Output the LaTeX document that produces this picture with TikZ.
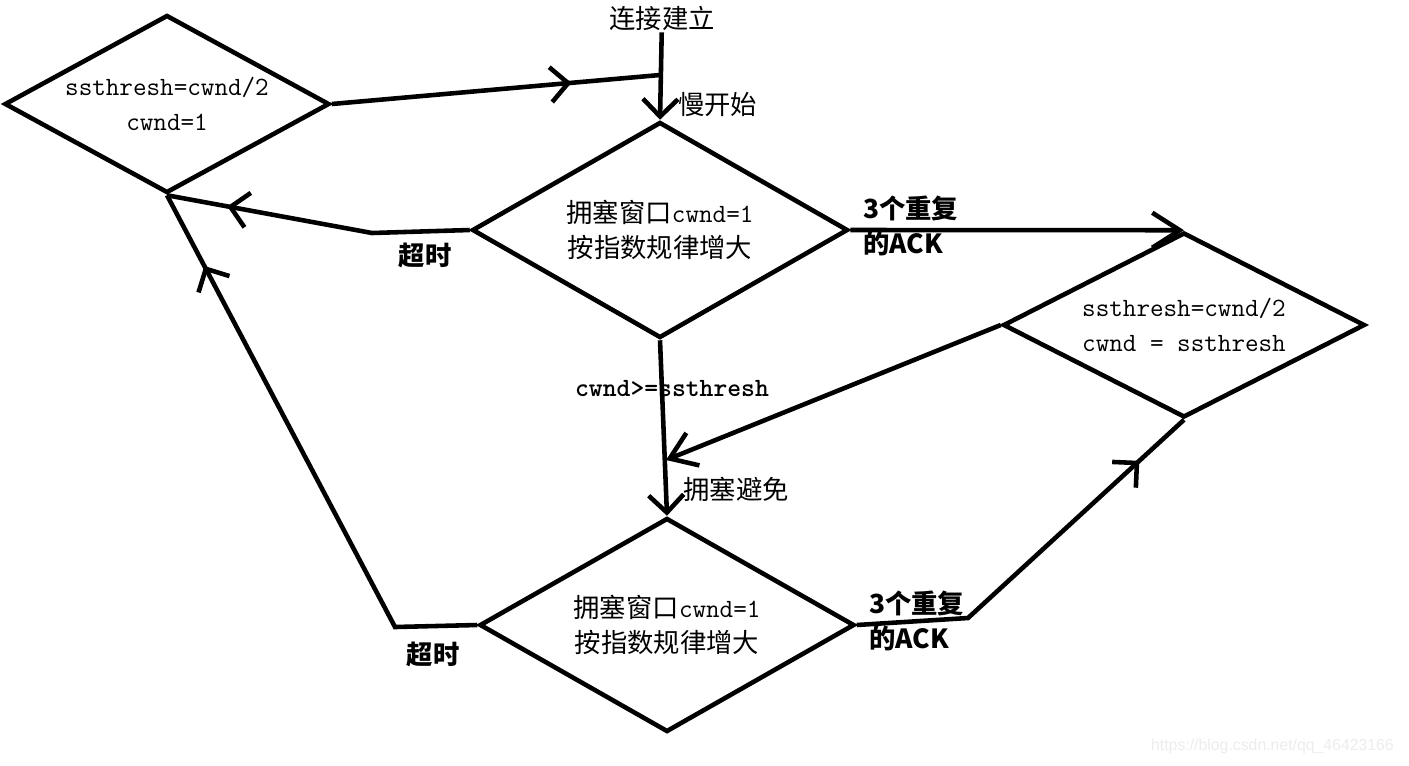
\documentclass[tikz,border=0pt]{standalone}
\usepackage{fontspec}
\setmainfont{Noto Sans CJK SC}
\newfontfamily\urlfont{Liberation Sans}
\usetikzlibrary{shapes.geometric,arrows.meta,decorations.markings}

\tikzset{
  box/.style={draw, shape=diamond, inner sep=0pt, line width=2.6pt, align=center,
    font=\fontsize{15}{19.5}\selectfont},
  link/.style={line width=2.6pt},
  arrowend/.style={-{Straight Barb[length=#1,width=7mm]}},
  arrowend/.default=3.5mm,
  midarrow/.style={postaction={decorate}, decoration={markings,
    mark=at position #1 with {\arrow{Straight Barb[length=3.5mm,width=7mm]}}}},
  lbl/.style={font=\fontsize{15}{19.5}\selectfont, inner sep=1pt, align=left},
}

\begin{document}
\begin{tikzpicture}[x=0.02cm, y=-0.02cm]
  \useasboundingbox (0,0) rectangle (1409,765);

  % states
  \node[box, font=\fontsize{15}{19.5}\selectfont\ttfamily, minimum width=6.5cm, minimum height=3.56cm, shape aspect=1.83] (reset) at (167,104) {\raisebox{-5pt}{ssthresh=cwnd/2}\\\raisebox{-5pt}{cwnd=1}};
  \node[box, minimum width=7.52cm, minimum height=4.32cm, shape aspect=1.74] (slow) at (660,230) {拥塞窗口\texttt{cwnd=1}\\按指数规律增大};
  \node[box, font=\fontsize{15}{19.5}\selectfont\ttfamily, align=left, minimum width=7.24cm, minimum height=3.7cm, shape aspect=1.96] (fast) at (1184,325) {ssthresh=cwnd/2\\cwnd = ssthresh};
  \node[box, minimum width=7.5cm, minimum height=4.28cm, shape aspect=1.75] (avoid) at (667,625) {拥塞窗口\texttt{cwnd=1}\\按指数规律增大};

  % labels
  \node[lbl] (begin) at (662,18) {连接建立};
  \node[lbl, anchor=west] (slowlbl) at (676,105) {慢开始};
  \node[lbl, font=\fontsize{15}{19.5}\selectfont\bfseries] (out1) at (425,255) {超时};
  \node[lbl, font=\fontsize{15}{19.5}\selectfont\bfseries] (out2) at (433,654) {超时};
  \node[lbl, font=\fontsize{15}{19.5}\selectfont\bfseries, anchor=west] (dup1) at (861,226) {3个重复\\的ACK};
  \node[lbl, font=\fontsize{15}{19.5}\selectfont\bfseries, anchor=west] (dup2) at (867,621) {3个重复\\的ACK};
  \node[lbl, font=\fontsize{15}{19.5}\selectfont\ttfamily\bfseries] (cond) at (672,389) {cwnd>=ssthresh};
  \node[lbl] (avoidlbl) at (736,489) {拥塞避免};
  \node[font=\urlfont\fontsize{9}{10}\selectfont, text=gray!15, anchor=east] (wm) at (1400,746) {https://blog.csdn.net/qq\_46423166};

  % bends
  \coordinate (j1) at (660,75);
  \coordinate (j2) at (666,460);
  \coordinate (t1) at (372,233);
  \coordinate (t2) at (395,627);
  \coordinate (t3) at (968,618);

  % transitions
  \draw[link, arrowend] (begin) -- (slow.north);
  \draw[link, midarrow=0.73] (reset.east) -- (j1);
  \draw[link, midarrow=0.8] (slow.west) -- (t1) -- (reset.south);
  \draw[link, arrowend=5.5mm] (slow.east) -- (fast.north);
  \draw[link, arrowend] (slow.south) -- (avoid.north);
  \draw[link, arrowend=5mm] (fast.west) -- (j2);
  \draw[link, midarrow=0.86] (avoid.west) -- (t2) -- (reset.south);
  \draw[link, midarrow=0.85] (avoid.east) -- (t3) -- (fast.south);
\end{tikzpicture}
\end{document}
